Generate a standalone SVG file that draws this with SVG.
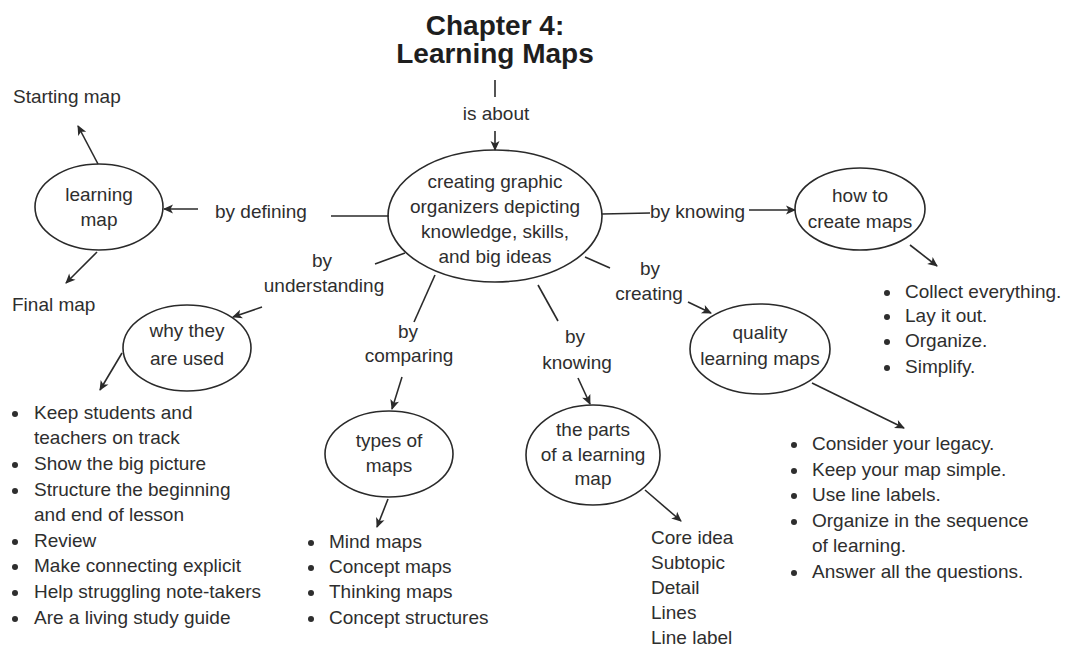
<svg xmlns="http://www.w3.org/2000/svg" width="1065" height="648" viewBox="0 0 1065 648">
<defs>
<marker id="ah" viewBox="0 0 10 10" refX="9" refY="5" markerWidth="11" markerHeight="10" markerUnits="userSpaceOnUse" orient="auto">
<path d="M0,0.5 L10,5 L0,9.5 L2.5,5 z" fill="#2a2a2a"/>
</marker>
</defs>
<style>
text{font-family:"Liberation Sans",Arial,sans-serif;font-size:19px;fill:#2e2e2e}
.c{text-anchor:middle}
.t{font-weight:bold;font-size:28px;fill:#1e1e1e}
ellipse{fill:none;stroke:#2a2a2a;stroke-width:1.6}
.ln line{stroke:#2a2a2a;stroke-width:1.6}
.a{marker-end:url(#ah)}
circle{fill:#2e2e2e}
</style>
<rect width="1065" height="648" fill="#fff"/>
<g id="title">
<text class="c t" x="495" y="35">Chapter 4:</text>
<text class="c t" x="495" y="63">Learning Maps</text>
</g>
<g id="connectors" class="ln">
<line x1="495" y1="80" x2="495" y2="97"/>
<line class="a" x1="495" y1="131" x2="495" y2="150"/>
<line class="a" x1="198" y1="209" x2="164" y2="209"/>
<line x1="331" y1="216" x2="389" y2="216"/>
<line class="a" x1="98" y1="164" x2="78" y2="126"/>
<line class="a" x1="97" y1="252" x2="66" y2="283"/>
<line x1="375" y1="264" x2="405" y2="253"/>
<line class="a" x1="262" y1="307" x2="233" y2="317"/>
<line class="a" x1="122" y1="353" x2="100" y2="390"/>
<line x1="435" y1="275" x2="414" y2="322"/>
<line class="a" x1="402" y1="377" x2="392" y2="409"/>
<line class="a" x1="388" y1="499" x2="377" y2="527"/>
<line x1="538" y1="285" x2="558" y2="321"/>
<line class="a" x1="578" y1="378" x2="590" y2="404"/>
<line class="a" x1="645" y1="490" x2="681" y2="521"/>
<line x1="585" y1="257" x2="610" y2="268"/>
<line class="a" x1="688" y1="302" x2="711" y2="313"/>
<line class="a" x1="812" y1="383" x2="904" y2="428"/>
<line x1="602" y1="214" x2="650" y2="213"/>
<line class="a" x1="749" y1="210" x2="795" y2="210"/>
<line class="a" x1="910" y1="245" x2="937" y2="266"/>
</g>
<g id="labels">
<text class="c" x="496" y="120">is about</text>
<text x="215" y="218">by defining</text>
<text class="c" x="322" y="267">by</text>
<text class="c" x="324" y="292">understanding</text>
<text class="c" x="408" y="338">by</text>
<text class="c" x="409" y="362">comparing</text>
<text class="c" x="575" y="343">by</text>
<text class="c" x="577" y="369">knowing</text>
<text class="c" x="650" y="275">by</text>
<text class="c" x="649" y="300">creating</text>
<text x="650" y="218">by knowing</text>
</g>
<g id="center">
<ellipse cx="495" cy="216" rx="107" ry="66"/>
<text class="c" x="495" y="188">creating graphic</text>
<text class="c" x="495" y="213">organizers depicting</text>
<text class="c" x="495" y="238">knowledge, skills,</text>
<text class="c" x="495" y="263">and big ideas</text>
</g>
<g id="learning-map">
<ellipse cx="99" cy="207" rx="64" ry="43"/>
<text class="c" x="99" y="201">learning</text>
<text class="c" x="99" y="226">map</text>
</g>
<g id="starting-map"><text x="13" y="103">Starting map</text></g>
<g id="final-map"><text x="12" y="311">Final map</text></g>
<g id="why">
<ellipse cx="187" cy="348" rx="64" ry="43"/>
<text class="c" x="187" y="337">why they</text>
<text class="c" x="187" y="365">are used</text>
</g>
<g id="why-list">
<circle cx="15" cy="414" r="3"/><text x="34" y="419">Keep students and</text>
<text x="34" y="444">teachers on track</text>
<circle cx="15" cy="465" r="3"/><text x="34" y="470">Show the big picture</text>
<circle cx="15" cy="491" r="3"/><text x="34" y="496">Structure the beginning</text>
<text x="34" y="521">and end of lesson</text>
<circle cx="15" cy="542" r="3"/><text x="34" y="547">Review</text>
<circle cx="15" cy="567" r="3"/><text x="34" y="572">Make connecting explicit</text>
<circle cx="15" cy="593" r="3"/><text x="34" y="598">Help struggling note-takers</text>
<circle cx="15" cy="619" r="3"/><text x="34" y="624">Are a living study guide</text>
</g>
<g id="types">
<ellipse cx="389" cy="454" rx="64" ry="43"/>
<text class="c" x="389" y="447">types of</text>
<text class="c" x="389" y="472">maps</text>
</g>
<g id="types-list">
<circle cx="311" cy="543" r="3"/><text x="329" y="548">Mind maps</text>
<circle cx="311" cy="568" r="3"/><text x="329" y="573">Concept maps</text>
<circle cx="311" cy="593" r="3"/><text x="329" y="598">Thinking maps</text>
<circle cx="311" cy="619" r="3"/><text x="329" y="624">Concept structures</text>
</g>
<g id="parts">
<ellipse cx="593" cy="455" rx="67" ry="50"/>
<text class="c" x="593" y="436">the parts</text>
<text class="c" x="593" y="461">of a learning</text>
<text class="c" x="593" y="485">map</text>
</g>
<g id="parts-list">
<text x="651" y="544">Core idea</text>
<text x="651" y="569">Subtopic</text>
<text x="651" y="594">Detail</text>
<text x="651" y="619">Lines</text>
<text x="651" y="644">Line label</text>
</g>
<g id="quality">
<ellipse cx="760" cy="349" rx="70" ry="45"/>
<text class="c" x="760" y="339">quality</text>
<text class="c" x="760" y="365">learning maps</text>
</g>
<g id="quality-list">
<circle cx="794" cy="445" r="3"/><text x="812" y="450">Consider your legacy.</text>
<circle cx="794" cy="471" r="3"/><text x="812" y="476">Keep your map simple.</text>
<circle cx="794" cy="496" r="3"/><text x="812" y="501">Use line labels.</text>
<circle cx="794" cy="522" r="3"/><text x="812" y="527">Organize in the sequence</text>
<text x="812" y="552">of learning.</text>
<circle cx="794" cy="573" r="3"/><text x="812" y="578">Answer all the questions.</text>
</g>
<g id="how">
<ellipse cx="860" cy="209" rx="65" ry="41"/>
<text class="c" x="860" y="202">how to</text>
<text class="c" x="860" y="228">create maps</text>
</g>
<g id="how-list">
<circle cx="887" cy="293" r="3"/><text x="905" y="298">Collect everything.</text>
<circle cx="887" cy="317" r="3"/><text x="905" y="322">Lay it out.</text>
<circle cx="887" cy="342" r="3"/><text x="905" y="347">Organize.</text>
<circle cx="887" cy="368" r="3"/><text x="905" y="373">Simplify.</text>
</g>
</svg>
